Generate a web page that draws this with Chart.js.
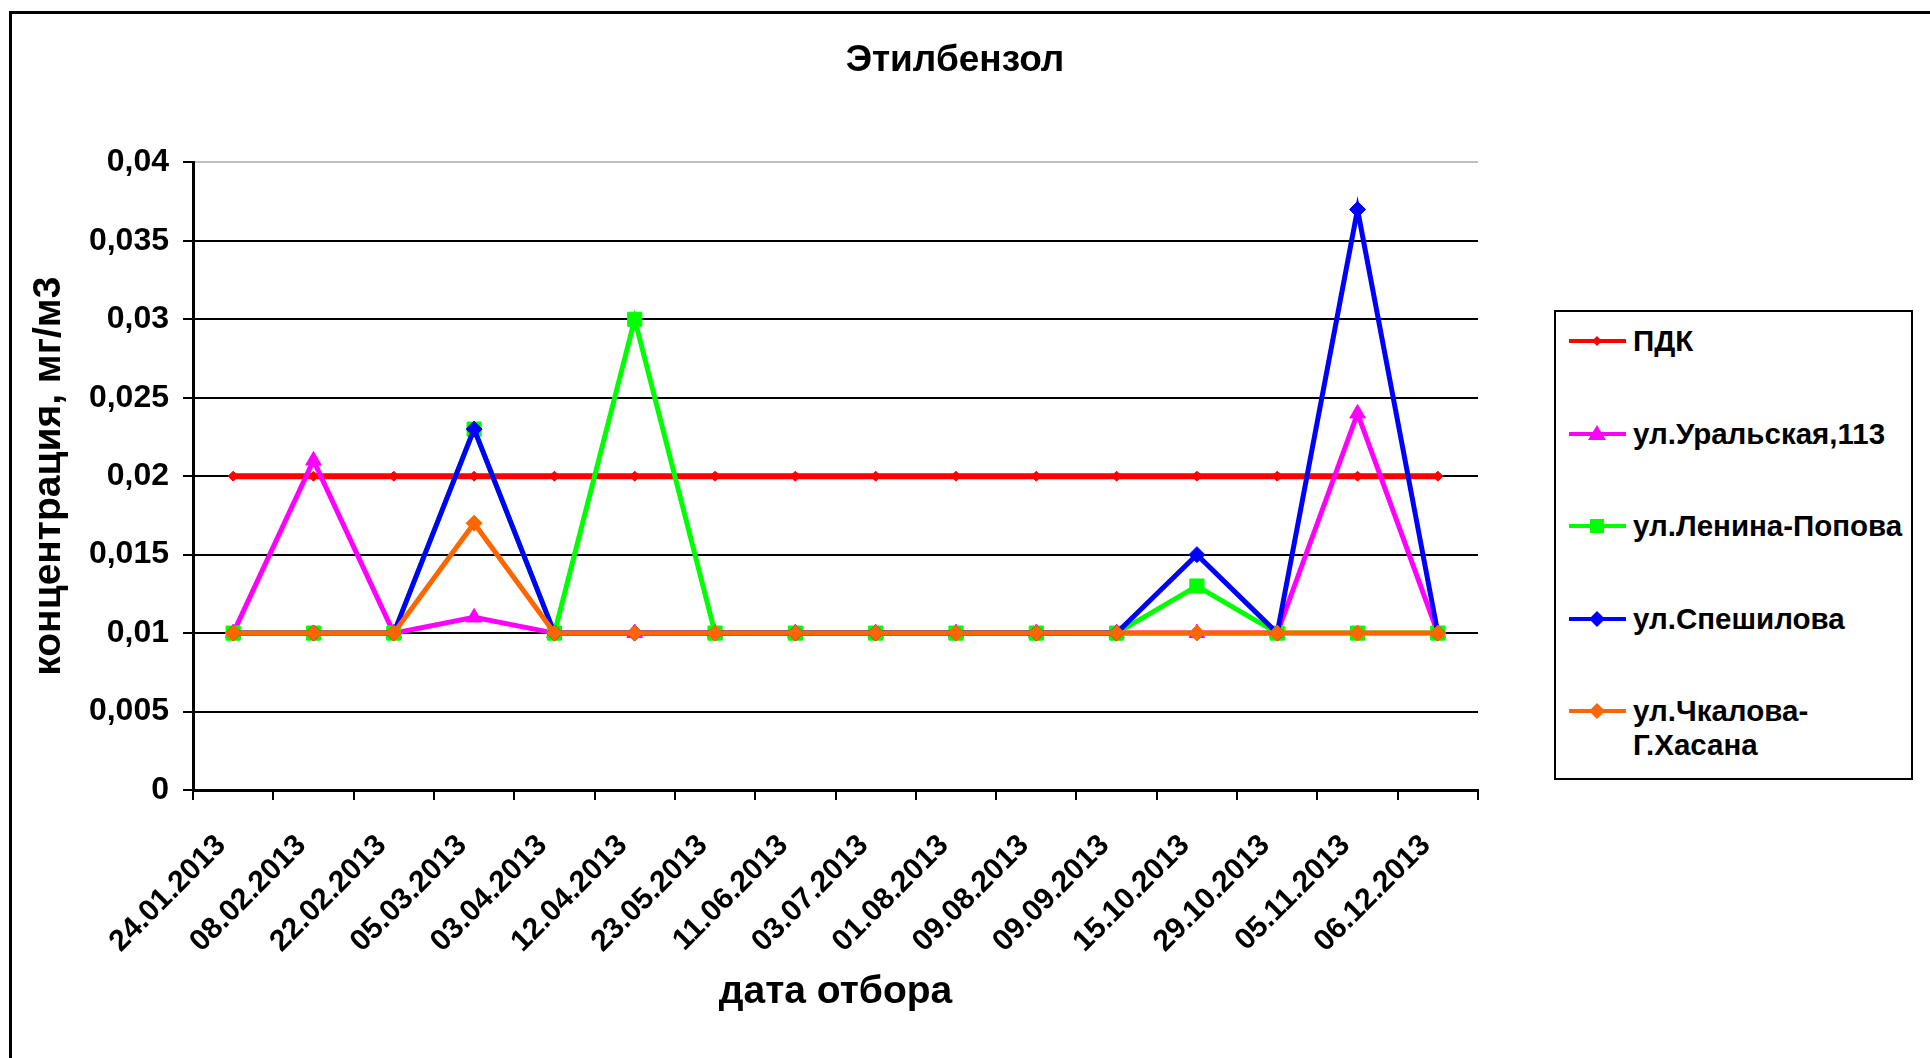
<!DOCTYPE html>
<html>
<head>
<meta charset="utf-8">
<script src="https://cdn.jsdelivr.net/npm/chart.js@4/dist/chart.umd.min.js"></script>
<style>
  body { margin: 0; background: #fff; overflow: hidden; font-family: "Liberation Sans", Arial, sans-serif; }
  #wrap { position: relative; width: 1930px; height: 1058px; }
  #frame { position: absolute; left: 9px; top: 11px; width: 1930px; height: 1058px;
           border-left: 3px solid #000; border-top: 3px solid #000; box-sizing: border-box; }
  #legend { position: absolute; left: 1554px; top: 310px; width: 359px; height: 470px;
            border: 2px solid #000; box-sizing: border-box; background: #fff; }
  .item { position: absolute; left: 13px; font-weight: bold; font-size: 29.5px; line-height: 34px; color: #000; }
  .item svg { position: absolute; left: 0; top: 7px; }
  .item span { position: absolute; left: 64px; top: 0; white-space: nowrap; }
</style>
</head>
<body>
<div id="wrap">
  <canvas id="chart"></canvas>
  <div id="frame"></div>
  <div id="legend"></div>
</div>
<script>
// даты отбора
const dates = ['24.01.2013', '08.02.2013', '22.02.2013', '05.03.2013', '03.04.2013', '12.04.2013',
               '23.05.2013', '11.06.2013', '03.07.2013', '01.08.2013', '09.08.2013', '09.09.2013',
               '15.10.2013', '29.10.2013', '05.11.2013', '06.12.2013'];

// концентрации, мг/м3
const pdk        = [0.02, 0.02, 0.02, 0.02, 0.02, 0.02, 0.02, 0.02, 0.02, 0.02, 0.02, 0.02, 0.02, 0.02, 0.02, 0.02];
const uralskaya  = [0.01, 0.021, 0.01, 0.011, 0.01, 0.01, 0.01, 0.01, 0.01, 0.01, 0.01, 0.01, 0.01, 0.01, 0.024, 0.01];
const lenina     = [0.01, 0.01, 0.01, 0.023, 0.01, 0.03, 0.01, 0.01, 0.01, 0.01, 0.01, 0.01, 0.013, 0.01, 0.01, 0.01];
const speshilova = [0.01, 0.01, 0.01, 0.023, 0.01, 0.01, 0.01, 0.01, 0.01, 0.01, 0.01, 0.01, 0.015, 0.01, 0.037, 0.01];
const chkalova   = [0.01, 0.01, 0.01, 0.017, 0.01, 0.01, 0.01, 0.01, 0.01, 0.01, 0.01, 0.01, 0.01, 0.01, 0.01, 0.01];

const yTicks = [0, 0.005, 0.01, 0.015, 0.02, 0.025, 0.03, 0.035, 0.04];

const FONT = '"Liberation Sans", Arial, sans-serif';

// серии в порядке легенды
const series = [
  { label: ['ПДК'], data: pdk, color: '#FF0000', style: 'rectRot', radius: 5, width: 6 },
  { label: ['ул.Уральская,113'], data: uralskaya, color: '#FF00FF', style: 'triangle', radius: 9, width: 5 },
  { label: ['ул.Ленина-Попова'], data: lenina, color: '#00FF00', style: 'rect', radius: 10, width: 5 },
  { label: ['ул.Спешилова'], data: speshilova, color: '#0000FF', style: 'rectRot', radius: 8, width: 5 },
  { label: ['ул.Чкалова-', 'Г.Хасана'], data: chkalova, color: '#FF6600', style: 'rectRot', radius: 8, width: 5 }
];

// последняя серия рисуется поверх (в Chart.js сверху оказывается dataset с индексом 0)
const datasets = series.slice().reverse().map(s => ({
  label: s.label.join(''),
  data: s.data,
  borderColor: s.color,
  backgroundColor: s.color,
  borderWidth: s.width,
  pointStyle: s.style,
  pointRadius: s.radius,
  pointBorderWidth: 1,
  pointBackgroundColor: s.color,
  pointBorderColor: s.color,
  tension: 0
}));

new Chart(document.getElementById('chart'), {
  type: 'line',
  data: { labels: dates, datasets: datasets },
  options: {
    responsive: true,
    maintainAspectRatio: false,
    animation: false,
    layout: { padding: { left: 0, right: 20, top: 0, bottom: 0 } },
    plugins: {
      legend: { display: false },
      tooltip: { enabled: false },
      title: {
        display: true,
        text: 'Этилбензол',
        color: '#000',
        font: { family: FONT, size: 37, weight: 'bold' },
        padding: { top: 39, bottom: 79 }
      }
    },
    scales: {
      x: {
        offset: true,
        grid: { drawOnChartArea: false, offset: true, color: '#000', lineWidth: 2, tickLength: 10 },
        border: { color: '#000', width: 3 },
        ticks: {
          color: '#000', autoSkip: false, maxRotation: 45, minRotation: 45, padding: 28, labelOffset: -12,
          font: { family: FONT, size: 30, weight: 'bold' }
        },
        title: {
          display: true, text: 'дата отбора', color: '#000',
          font: { family: FONT, size: 39, weight: 'bold' },
          padding: { top: 0, bottom: 42 }
        },
        afterFit: s => { s.height = 268; }
      },
      y: {
        min: 0, max: 0.04,
        afterBuildTicks: s => { s.ticks = yTicks.map(v => ({ value: v })); },
        grid: {
          color: c => (c.tick && c.tick.value === 0.04) ? '#C0C0C0' : '#000',
          tickColor: '#000', lineWidth: 2, tickLength: 10
        },
        border: { color: '#000', width: 3 },
        ticks: {
          color: '#000', padding: 14,
          font: { family: FONT, size: 32, weight: 'bold' },
          callback: v => String(Number(v.toFixed(3))).replace('.', ',')
        },
        title: {
          display: true, text: 'концентрация, мг/м3', color: '#000',
          font: { family: FONT, size: 39, weight: 'bold' },
          padding: { top: 26, bottom: 0 }
        },
        afterFit: s => { s.width = 193; }
      },
      // пустая ось справа - место под легенду
      yr: {
        position: 'right', display: true,
        grid: { display: false, drawTicks: false },
        border: { display: false },
        ticks: { display: false },
        afterFit: s => { s.width = 432; }
      }
    }
  }
});

// легенда: линия + маркер, как в Excel
function marker(s) {
  const c = s.color, cx = 28, cy = 10;
  if (s.style === 'triangle') return `<polygon points="${cx},${cy - 9} ${cx + 9},${cy + 6} ${cx - 9},${cy + 6}" fill="${c}"/>`;
  if (s.style === 'rect') return `<rect x="${cx - 7}" y="${cy - 7}" width="14" height="14" fill="${c}"/>`;
  const r = s.radius;
  return `<polygon points="${cx},${cy - r} ${cx + r},${cy} ${cx},${cy + r} ${cx - r},${cy}" fill="${c}"/>`;
}
const legend = document.getElementById('legend');
series.forEach((s, i) => {
  const div = document.createElement('div');
  div.className = 'item';
  div.style.top = (12 + i * 92.5) + 'px';
  div.innerHTML = `<svg width="58" height="20"><line x1="0" y1="10" x2="57" y2="10" stroke="${s.color}" stroke-width="4"/>${marker(s)}</svg>` +
                  `<span>${s.label.join('<br>')}</span>`;
  legend.appendChild(div);
});
</script>
</body>
</html>
